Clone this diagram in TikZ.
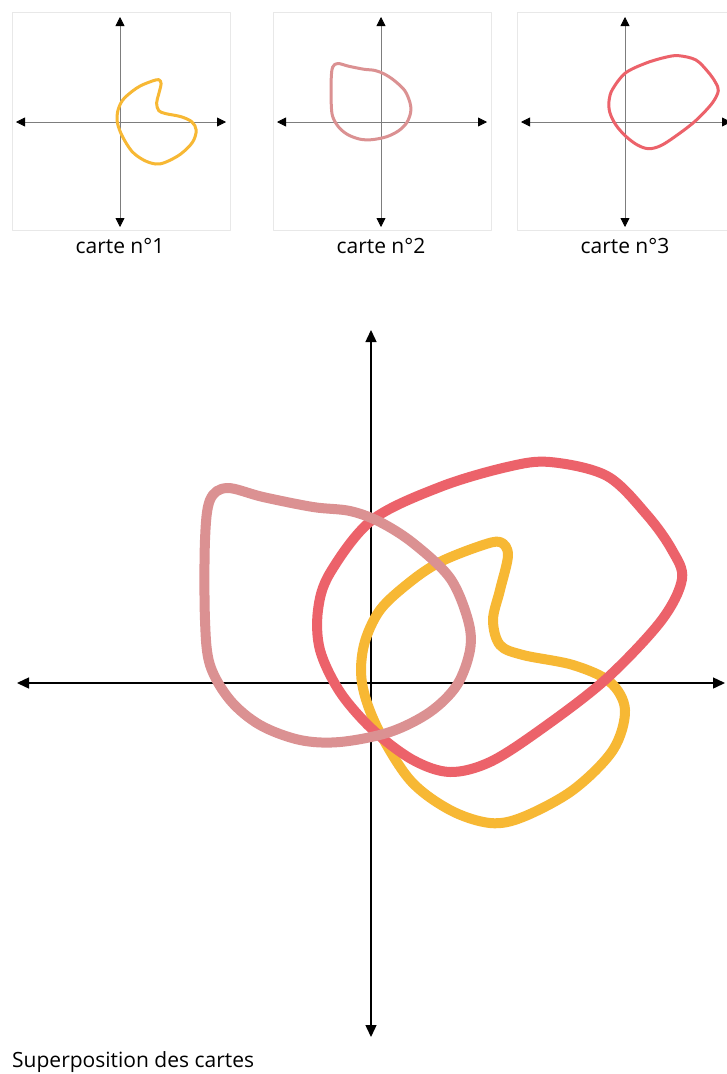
\documentclass[tikz,border=0pt]{standalone}
\usepackage{fontspec}
\setmainfont{Open Sans}
\usetikzlibrary{arrows.meta}
\definecolor{jaune}{RGB}{247,184,52}
\definecolor{rouge}{RGB}{236,98,106}
\definecolor{rose}{RGB}{219,145,146}
\definecolor{cadre}{RGB}{232,232,232}
\definecolor{axegris}{RGB}{125,125,125}
\tikzset{
  formejaune/.pic={\draw[jaune] plot[smooth cycle, tension=0.55] coordinates {
    (129,-141) (137,-128) (129,-93) (122,-63) (129,-38) (152,-28) (202,-18)
    (239,-1) (254,27) (242,67) (202,107) (152,134) (119,140) (79,127)
    (39,97) (6,44) (-9,0) (-7,-38) (9,-73) (39,-101) (69,-121) (109,-137)};},
  formerouge/.pic={\draw[rouge] plot[smooth cycle, tension=0.55] coordinates {
    (179,-221) (236,-207) (276,-168) (301,-133) (311,-104) (290,-62)
    (234,-3) (169,47) (119,79) (79,89) (42,77) (2,47) (-31,9) (-51,-33)
    (-53,-73) (-41,-110) (1,-163) (69,-196) (136,-216)};},
  formerose/.pic={\draw[rose] plot[smooth cycle, tension=0.55] coordinates {
    (-144,-195) (-108,-186) (-58,-176) (-21,-172) (9,-161) (42,-140) (79,-105)
    (97,-63) (99,-33) (86,2) (59,29) (19,49) (-31,59) (-71,57) (-111,42)
    (-141,17) (-161,-18) (-166,-63) (-166,-143) (-161,-183)};},
  petitaxe/.style={axegris, line width=0.8pt,
    {Triangle[length=9pt,width=9pt,black]}-{Triangle[length=9pt,width=9pt,black]}},
  grandaxe/.style={black, line width=1.4pt,
    {Triangle[length=12pt,width=11pt]}-{Triangle[length=12pt,width=11pt]}},
  legende/.style={font=\fontsize{21}{25}\selectfont, inner sep=0pt}
}
\begin{document}
\begin{tikzpicture}[x=1pt, y=-1pt, line cap=round, line join=round]
\useasboundingbox (0,0) rectangle (727,1074);
\fill[white] (0,0) rectangle (727,1074);
% les trois cartes
\foreach \ox/\forme/\num in {120/formejaune/1, 381/formerose/2, 625/formerouge/3} {
  \draw[cadre, line width=1pt] (\ox-108,12) rectangle (\ox+110,230);
  \draw[petitaxe] (\ox,17) -- (\ox,227);
  \draw[petitaxe] (\ox-104,122) -- (\ox+106,122);
  \pic[scale=0.3, line width=3pt] at (\ox,122) {\forme};
  \node[legende] (carte\num) at (\ox,246) {carte n°\num};
}
% superposition
\draw[grandaxe] (371,1037) -- (371,330);
\draw[grandaxe] (17,683) -- (725,683);
\pic[line width=10pt] at (371,683) {formejaune};
\pic[line width=10pt] at (371,683) {formerouge};
\pic[line width=10pt] at (371,683) {formerose};
\node[legende, anchor=base west] (superpo) at (12,1067) {Superposition des cartes};
\end{tikzpicture}
\end{document}
